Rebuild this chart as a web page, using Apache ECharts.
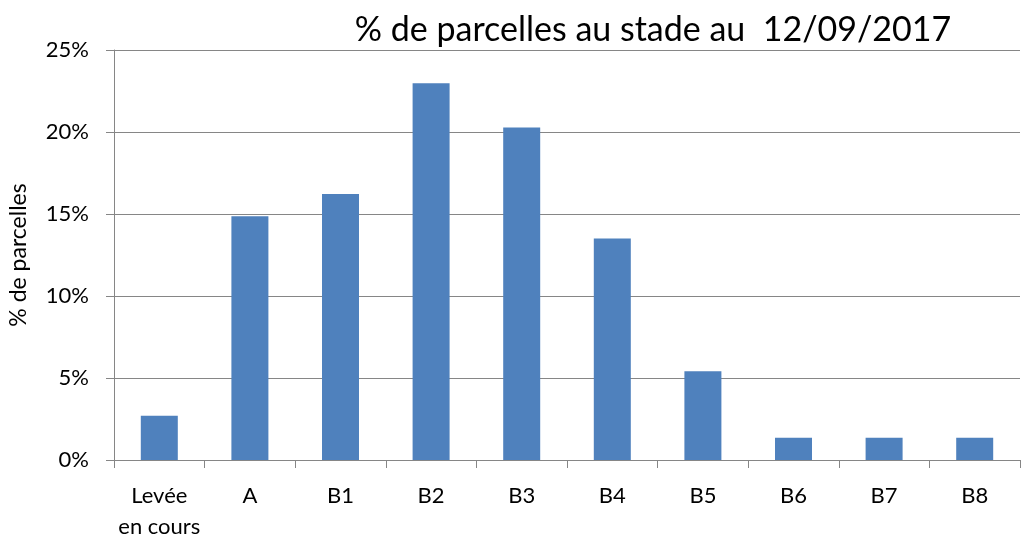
<!DOCTYPE html>
<html><head><meta charset="utf-8">
<script src="https://cdn.jsdelivr.net/npm/echarts@6/dist/echarts.min.js"></script>
<style>html,body{margin:0;padding:0;background:#fff}#c{width:1028px;height:536px}</style>
</head><body><div id="c"></div>
<script>
const categories = ['Levée\nen cours','A','B1','B2','B3','B4','B5','B6','B7','B8'];
const values = [2.70, 14.86, 16.22, 22.97, 20.27, 13.51, 5.41, 1.35, 1.35, 1.35];
const yTicks = [0, 5, 10, 15, 20, 25];
const titleText = '% de parcelles au stade au  12/09/2017';
const yName = '% de parcelles';

const FONT = 'Lato, "Open Sans", sans-serif';
const chart = echarts.init(document.getElementById('c'), null, {renderer:'canvas'});
chart.setOption({
  animation:false,
  backgroundColor:'#fff',
  title:{text:titleText,left:648,top:8,textAlign:'center',
    textStyle:{fontFamily:FONT,fontSize:34,fontWeight:'normal',color:'#000'}},
  grid:{left:114,right:8,top:50,bottom:76,containLabel:false,outerBoundsMode:'none'},
  xAxis:{type:'category',data:categories,
    axisLine:{lineStyle:{color:'#868686',width:1}},
    axisTick:{show:true,alignWithLabel:false,length:8,lineStyle:{color:'#868686'}},
    axisLabel:{fontFamily:FONT,fontSize:22,color:'#000',margin:20,lineHeight:31,interval:0}},
  yAxis:{type:'value',min:yTicks[0],max:yTicks[yTicks.length-1],interval:5,
    name:yName,nameLocation:'middle',nameGap:84,nameRotate:90,
    nameTextStyle:{fontFamily:FONT,fontSize:23,color:'#000'},
    axisLine:{show:true,lineStyle:{color:'#868686'}},
    axisTick:{show:true,length:8,lineStyle:{color:'#868686'}},
    splitLine:{lineStyle:{color:'#868686',width:1}},
    axisLabel:{fontFamily:FONT,fontSize:22,color:'#000',margin:25,formatter:v=>v+'%'}},
  series:[{type:'bar',data:values,barWidth:37,
    itemStyle:{color:'#4f81bd'}}]
});
</script></body></html>
